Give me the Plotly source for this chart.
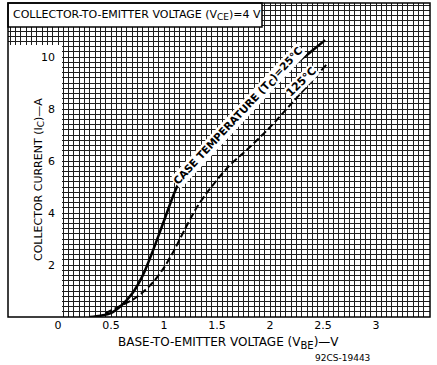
import plotly.graph_objects as go

# Data
vbe_25 = [0.30, 0.40, 0.50, 0.60, 0.70, 0.80, 0.90, 1.00, 1.10, 1.20, 1.30, 1.40, 1.60, 1.80, 2.00, 2.20, 2.40, 2.52]
ic_25 = [0.0, 0.05, 0.15, 0.45, 0.90, 1.60, 2.60, 3.70, 4.80, 5.65, 6.20, 6.65, 7.45, 8.20, 8.90, 9.60, 10.25, 10.65]

vbe_125 = [0.45, 0.50, 0.60, 0.70, 0.80, 0.90, 1.00, 1.10, 1.20, 1.30, 1.40, 1.60, 1.80, 2.00, 2.20, 2.40, 2.53]
ic_125 = [0.15, 0.25, 0.45, 0.65, 0.95, 1.35, 1.90, 2.60, 3.40, 4.15, 4.75, 5.75, 6.50, 7.30, 8.20, 9.10, 9.70]

x_ticks = [0, 0.5, 1, 1.5, 2, 2.5, 3]
x_tick_text = ["0", "0.5", "1", "1.5", "2", "2.5", "3"]
y_ticks = [2, 4, 6, 8, 10]
y_tick_text = ["2", "4", "6", "8", "10"]

W, H = 437, 365
L, R, T, B = 8, 7, 3, 48
PW, PH = W - L - R, H - T - B

def px_x(p):
    return (p - L) / PW

def px_y(p):
    return (H - B - p) / PH

FONT = "DejaVu Sans"

fig = go.Figure()
fig.add_trace(go.Scatter(x=vbe_25, y=ic_25, mode="lines", line=dict(color="black", width=2.5, shape="spline", smoothing=0.8), hoverinfo="skip"))
fig.add_trace(go.Scatter(x=vbe_125, y=ic_125, mode="lines", line=dict(color="black", width=2, dash="7px,3px", shape="spline", smoothing=0.8), hoverinfo="skip"))

grid_col = "#1e1e1e"
fig.update_layout(
    width=W, height=H,
    margin=dict(l=L, r=R, t=T, b=B),
    paper_bgcolor="white", plot_bgcolor="white",
    showlegend=False,
    xaxis=dict(range=[-0.4717, 3.5094], tickvals=x_ticks, ticktext=x_tick_text,
               showgrid=True, gridcolor=grid_col, gridwidth=1, zeroline=False,
               minor=dict(tick0=0, dtick=0.05, showgrid=True, gridcolor=grid_col, gridwidth=1),
               tickfont=dict(family=FONT, size=11, color="black"), ticks="", ticklabelstandoff=0),
    yaxis=dict(range=[0, 12.077], dtick=1, showticklabels=False,
               showgrid=True, gridcolor=grid_col, gridwidth=1, zeroline=False,
               minor=dict(tick0=0, dtick=0.2, showgrid=True, gridcolor=grid_col, gridwidth=1)),
)

shapes = []
# white region left of grid (axis label area)
shapes.append(dict(type="rect", xref="paper", yref="paper", x0=0, x1=px_x(62), y0=0, y1=px_y(45),
                   fillcolor="white", line=dict(width=0), layer="above"))
# title box
shapes.append(dict(type="rect", xref="paper", yref="paper", x0=0, x1=px_x(262), y0=px_y(27), y1=1,
                   fillcolor="white", line=dict(color="black", width=1.5), layer="above"))
# outer frame
shapes.append(dict(type="rect", xref="paper", yref="paper", x0=0, x1=1, y0=0, y1=1,
                   line=dict(color="black", width=1.5), layer="above"))
fig.update_layout(shapes=shapes)

ann = []
ann.append(dict(text="COLLECTOR-TO-EMITTER VOLTAGE (V<sub><span style='font-size:9px'>CE</span></sub>)=4 V",
                xref="paper", yref="paper",
                x=px_x(11), y=px_y(15), xanchor="left", yanchor="middle", showarrow=False,
                font=dict(family=FONT, size=11, color="black")))
for v, t in zip(y_ticks, y_tick_text):
    ann.append(dict(text=t, xref="paper", yref="y", x=px_x(57), y=v, xanchor="right", yanchor="middle",
                    showarrow=False, font=dict(family=FONT, size=11, color="black")))
ann.append(dict(text="COLLECTOR CURRENT (I<sub><span style='font-size:9px'>C</span></sub>)—A",
                xref="paper", yref="paper",
                x=px_x(30), y=px_y(180), textangle=-90, showarrow=False,
                font=dict(family=FONT, size=11, color="black")))
ann.append(dict(text="BASE-TO-EMITTER VOLTAGE (V<sub><span style='font-size:10px'>BE</span></sub>)—V",
                xref="paper", yref="paper",
                x=px_x(228), y=px_y(333), yanchor="top", showarrow=False,
                font=dict(family=FONT, size=12, color="black")))
ann.append(dict(text="92CS-19443", xref="paper", yref="paper",
                x=px_x(372), y=px_y(358), yanchor="middle", showarrow=False,
                font=dict(family=FONT, size=9, color="black")))
ann.append(dict(text="<b>CASE TEMPERATURE (T<sub><span style='font-size:9px'>C</span></sub>)=25°C</b>",
                x=1.70, y=7.75, textangle=-47,
                showarrow=False, bgcolor="white", borderpad=0,
                font=dict(family=FONT, size=10.5, color="black")))
ann.append(dict(text="<b>125°C</b>", x=2.30, y=9.05, textangle=-44,
                showarrow=False, bgcolor="white", borderpad=0,
                font=dict(family=FONT, size=11, color="black")))
fig.update_layout(annotations=ann)

fig.write_html("out.html")
